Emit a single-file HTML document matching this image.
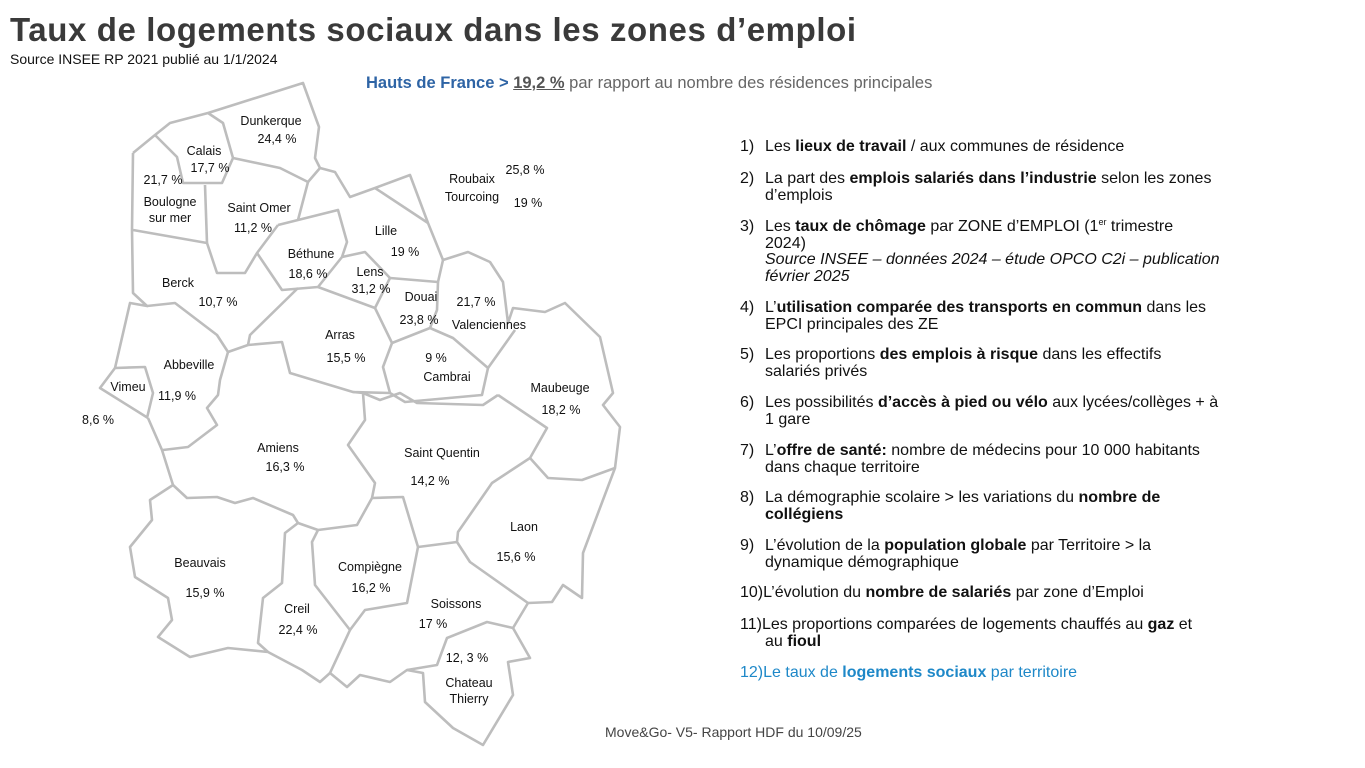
<!DOCTYPE html>
<html><head><meta charset="utf-8">
<style>
body{margin:0;width:1365px;height:768px;background:#fff;position:relative;overflow:hidden;font-family:"Liberation Sans",sans-serif;color:#111}
.t{position:absolute;white-space:nowrap}
#list div{position:absolute;left:740px;font-size:16px;line-height:16.5px;white-space:nowrap}
#list .n{position:absolute;left:0}
#list .c{position:absolute;left:25px}
#list sup{font-size:9px;line-height:0;vertical-align:6px}
svg text{font-family:"Liberation Sans",sans-serif;font-size:12.5px;fill:#111;text-anchor:middle}
</style></head><body>
<div class="t" style="left:10px;top:11px;font-size:33px;font-weight:bold;color:#3a3a3a;letter-spacing:0.6px">Taux de logements sociaux dans les zones d’emploi</div>
<div class="t" style="left:10px;top:51px;font-size:14px">Source INSEE RP 2021 publié au 1/1/2024</div>
<div class="t" style="left:366px;top:74px;font-size:16.5px;color:#666"><b style="color:#2e64a5">Hauts de France &gt; </b><b style="text-decoration:underline;color:#555">19,2 %</b> par rapport au nombre des résidences principales</div>

<svg id="map" width="1365" height="768" style="position:absolute;left:0;top:0">
<g id="edges" fill="none" stroke="#bdbdbd" stroke-width="2.6" stroke-linejoin="round"></g>
<g id="labels"></g>
</svg>

<div id="list">
<div style="top:139px"><span class="n">1)</span><span class="c">Les <b>lieux de travail</b> / aux communes de résidence</span></div>
<div style="top:171px"><span class="n">2)</span><span class="c">La part des <b>emplois salariés dans l’industrie</b> selon les zones<br>d’emplois</span></div>
<div style="top:219px"><span class="n">3)</span><span class="c">Les <b>taux de chômage</b> par ZONE d’EMPLOI (1<sup>er</sup> trimestre<br>2024)<br><i>Source INSEE – données 2024 – étude OPCO C2i – publication<br>février 2025</i></span></div>
<div style="top:300px"><span class="n">4)</span><span class="c">L’<b>utilisation comparée des transports en commun</b> dans les<br>EPCI principales des ZE</span></div>
<div style="top:347px"><span class="n">5)</span><span class="c">Les proportions <b>des emplois à risque</b> dans les effectifs<br>salariés privés</span></div>
<div style="top:395px"><span class="n">6)</span><span class="c">Les possibilités <b>d’accès à pied ou vélo</b> aux lycées/collèges + à<br>1 gare</span></div>
<div style="top:443px"><span class="n">7)</span><span class="c">L’<b>offre de santé:</b> nombre de médecins  pour 10 000 habitants<br>dans chaque territoire</span></div>
<div style="top:490px"><span class="n">8)</span><span class="c">La démographie scolaire &gt; les variations du <b>nombre de<br>collégiens</b></span></div>
<div style="top:538px"><span class="n">9)</span><span class="c">L’évolution de la <b>population globale</b> par Territoire &gt; la<br>dynamique démographique</span></div>
<div style="top:585px">10)L’évolution du <b>nombre de salariés</b> par zone d’Emploi</div>
<div style="top:617px">11)Les proportions comparées de logements chauffés au <b>gaz</b> et<br><span style="padding-left:25px">au <b>fioul</b></span></div>
<div style="top:665px;color:#1e88c8">12)Le taux de <b>logements sociaux</b> par territoire</div>
</div>
<div class="t" style="left:605px;top:724px;font-size:14px;color:#444">Move&amp;Go- V5- Rapport HDF du 10/09/25</div>

<script>
const zones=["Dunkerque","Calais","Boulogne sur mer","Saint Omer","Béthune","Lille","Lens","Roubaix Tourcoing","Douai","Valenciennes","Berck","Arras","Cambrai","Maubeuge","Abbeville","Vimeu","Amiens","Saint Quentin","Laon","Beauvais","Compiègne","Creil","Soissons","Chateau Thierry"];
const rates=["24,4 %","17,7 %","21,7 %","11,2 %","18,6 %","19 %","31,2 %","25,8 % / 19 %","23,8 %","21,7 %","10,7 %","15,5 %","9 %","18,2 %","11,9 %","8,6 %","16,3 %","14,2 %","15,6 %","15,9 %","16,2 %","22,4 %","17 %","12, 3 %"];
const edges=[
[[133,153],[155,135],[170,123],[208,113],[303,83],[319,127],[315,158],[320,168],[335,172],[350,197],[375,188],[410,175],[428,223],[443,260],[468,252],[490,262],[503,282],[508,323],[513,308],[545,312],[565,303],[600,337],[613,393],[603,405],[620,427],[615,468],[583,553],[582,598],[563,585],[552,602],[528,603],[513,628],[530,658],[508,662],[513,695],[483,745],[453,728],[425,702],[423,673],[407,670],[390,682],[360,675],[347,687],[330,673],[320,682],[302,670],[268,652],[228,648],[190,657],[158,637],[172,620],[168,598],[135,577],[130,547],[152,520],[150,500],[173,485],[162,450],[148,418]],
[[148,418],[100,388],[115,368],[145,367],[153,393],[147,418]],
[[115,368],[130,303],[147,306],[133,293],[132,230],[133,153]],
[[155,135],[177,157],[183,183],[222,183],[233,158],[223,123],[208,113]],
[[233,158],[280,168],[308,182],[320,168]],
[[205,185],[207,243]],[[133,230],[207,243]],
[[207,243],[217,273],[245,273],[257,253],[278,225]],
[[308,182],[298,220]],
[[278,225],[338,210],[347,242],[342,257],[318,287],[282,290],[257,253]],
[[342,257],[365,252],[390,278],[375,308],[318,287]],
[[375,188],[428,223]],
[[390,278],[438,282],[443,260]],
[[375,308],[392,343],[430,328],[437,310],[438,282]],
[[430,328],[453,338],[488,368],[515,330]],
[[392,343],[383,367],[390,393],[405,402],[482,395],[488,368]],
[[298,288],[250,335],[248,345]],
[[248,345],[282,342],[290,373],[353,392],[390,393]],
[[147,306],[175,303],[217,335],[228,352],[248,345]],
[[228,352],[220,380],[218,395],[207,408],[217,425],[188,447],[163,450]],
[[173,485],[187,498],[217,497],[235,503],[253,498],[293,515],[298,523],[318,530],[357,525],[372,498],[375,483],[348,445],[365,420],[363,393],[353,392]],
[[363,393],[380,400],[400,393],[417,403],[483,405],[498,395]],
[[498,395],[547,428],[530,458],[548,478],[582,480],[615,468]],
[[530,458],[492,483],[458,532],[457,542],[470,562],[528,603]],
[[318,530],[312,542],[315,585],[350,630],[365,610],[407,603],[418,547],[403,497],[372,498]],
[[418,547],[457,542]],
[[298,523],[285,533],[282,583],[263,598],[258,643],[268,652]],
[[350,630],[330,673]],
[[407,670],[437,665],[447,638],[487,622],[513,628]]
];
const nameX=[271,204,170,259,311,386,370,472,421,489,178,340,447,560,189,128,278,442,524,200,370,297,456,469];
const nameY=[125,155,206,212,258,235,276,183,301,329,287,339,381,392,369,391,452,457,531,567,571,613,608,687];
const rateX=[277,210,163,253,308,405,371,525,419,476,218,346,436,561,177,98,285,430,516,205,371,298,433,467];
const rateY=[143,172,184,232,278,256,293,174,324,306,306,362,362,414,400,424,471,485,561,597,592,634,628,662];
const ns='http://www.w3.org/2000/svg';
const eg=document.getElementById('edges'),lg=document.getElementById('labels');
edges.forEach((e,i)=>{const p=document.createElementNS(ns,'polyline');
p.setAttribute('points',e.map(q=>q.join(',')).join(' '));


eg.appendChild(p);});
function txt(x,y,s,name){const t=document.createElementNS(ns,'text');t.setAttribute('x',x);t.setAttribute('y',y);t.textContent=s;


lg.appendChild(t);}
zones.forEach((z,i)=>{
 if(z==="Boulogne sur mer"){txt(nameX[i],nameY[i],"Boulogne","zone-name");txt(nameX[i],nameY[i]+16,"sur mer","zone-name");}
 else if(z==="Roubaix Tourcoing"){txt(nameX[i],nameY[i],"Roubaix","zone-name");txt(nameX[i],nameY[i]+18,"Tourcoing","zone-name");}
 else if(z==="Chateau Thierry"){txt(nameX[i],nameY[i],"Chateau","zone-name");txt(nameX[i],nameY[i]+16,"Thierry","zone-name");}
 else txt(nameX[i],nameY[i],z,"zone-name");
 if(z==="Roubaix Tourcoing"){const r=rates[i].split(" / ");txt(rateX[i],rateY[i],r[0],"zone-rate");txt(rateX[i]+3,rateY[i]+33,r[1],"zone-rate");}
 else txt(rateX[i],rateY[i],rates[i],"zone-rate");
});
</script>
</body></html>
